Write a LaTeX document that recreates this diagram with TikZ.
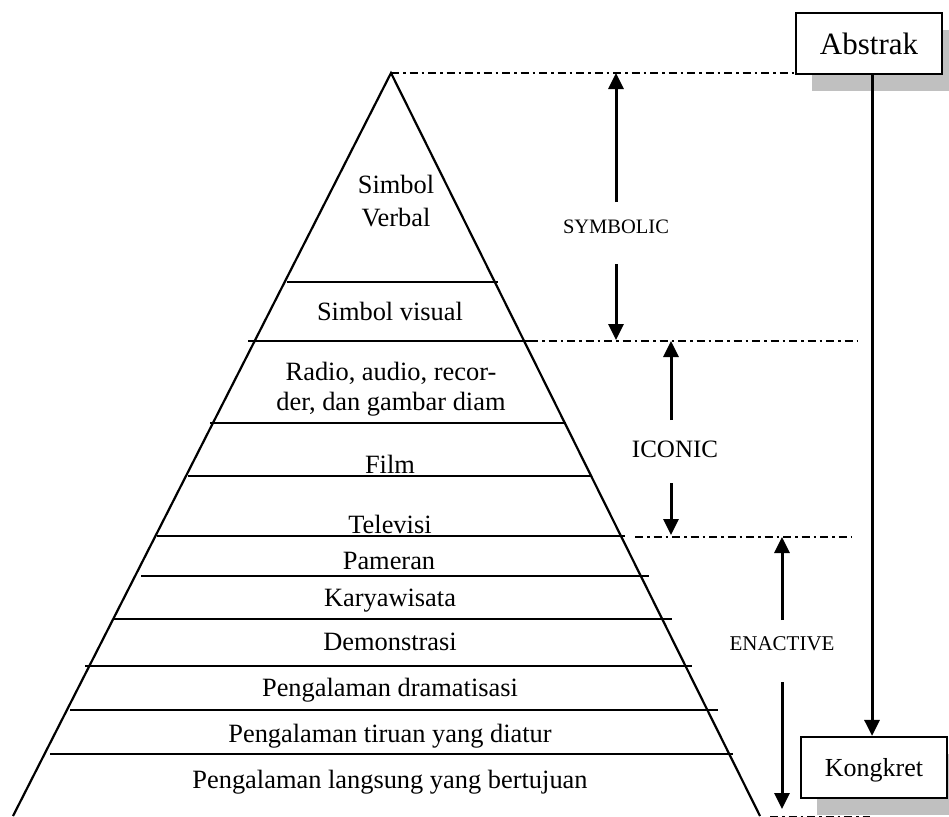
\documentclass[tikz,border=0pt]{standalone}
\usepackage{fontspec}
\setmainfont{Liberation Serif}
\usetikzlibrary{arrows.meta}
\definecolor{shadowgray}{RGB}{192,192,192}
\begin{document}
\begin{tikzpicture}[x=1pt,y=-1pt,
  edgeline/.style={line width=2.2pt},
  tier/.style={line width=2.2pt},
  dd/.style={line width=2.4pt, dash pattern=on 8pt off 4pt on 2.5pt off 4pt},
  arr/.style={line width=3pt, -{Triangle[length=16pt,width=15pt]}},
  lbl/.style={anchor=base, inner sep=0pt, font=\fontsize{26.4}{30}\selectfont},
  phase/.style={anchor=base, inner sep=0pt, font=\fontsize{20.5}{24}\selectfont},
  box/.style={draw, line width=2.2pt, fill=white, minimum width=146pt, minimum height=61pt, inner sep=0pt, text depth=0pt},
  shadowbox/.style={fill=shadowgray, draw=none, minimum width=146pt, minimum height=61pt, inner sep=0pt}
]
\path[use as bounding box, clip] (0,0) rectangle (949,816);
\fill[white] (0,0) rectangle (949,816);

% shadows and boxes
\node[shadowbox] (absS) at (885,60.5) {};
\node[shadowbox] (kongS) at (890,784.5) {};
\node[box, font=\fontsize{31}{36}\selectfont] (abs) at (869,43.5) {Abstrak};
\node[box, font=\fontsize{26}{30}\selectfont] (kong) at (874,767.5) {Kongkret};

% pyramid
\coordinate (apex) at (391,73);
\coordinate (bl) at (13,816);
\coordinate (br) at (760,816);
\draw[edgeline] (bl) -- (apex) -- (br);

% tier lines
\draw[tier] (287,282) -- (498,282);
\draw[tier] (248,341) -- (530,341);
\draw[tier] (210,423) -- (566,423);
\draw[tier] (188,476) -- (591,476);
\draw[tier] (157,536) -- (625,536);
\draw[tier] (141,576) -- (649,576);
\draw[tier] (114,619) -- (672,619);
\draw[tier] (85,666) -- (692,666);
\draw[tier] (70,710) -- (718,710);
\draw[tier] (50,754) -- (733,754);

% dash-dot level lines
\coordinate (d2a) at (530,341); \coordinate (d2b) at (857,341);
\coordinate (d3a) at (635,537); \coordinate (d3b) at (851,537);
\coordinate (d4a) at (770,817); \coordinate (d4b) at (870,817);
\draw[dd] (apex) -- (abs.west |- apex);
\draw[dd] (d2a) -- (d2b);
\draw[dd] (d3a) -- (d3b);
\draw[dd] (d4a) -- (d4b);

% tier labels
\node[lbl] (sv) at (396,193) {Simbol};
\node[lbl] (sv2) at (396,226) {Verbal};
\node[lbl] (svis) at (390,320) {Simbol visual};
\node[lbl] (radio) at (391,380) {Radio, audio, recor-};
\node[lbl] (radio2) at (391,410) {der, dan gambar diam};
\node[lbl] (film) at (390,473) {Film};
\node[lbl] (tv) at (390,533) {Televisi};
\node[lbl] (pam) at (389,569) {Pameran};
\node[lbl] (kary) at (390,606) {Karyawisata};
\node[lbl] (demo) at (390,650) {Demonstrasi};
\node[lbl] (drama) at (390,696) {Pengalaman dramatisasi};
\node[lbl] (tiruan) at (390,742) {Pengalaman tiruan yang diatur};
\node[lbl] (langsung) at (390,788) {Pengalaman langsung yang bertujuan};

% phase labels and arrows
\node[phase] (sym) at (616,233) {SYMBOLIC};
\node[lbl, font=\fontsize{25}{30}\selectfont] (ico) at (675,457) {ICONIC};
\node[phase, font=\fontsize{21}{24}\selectfont] (ena) at (782,650) {ENACTIVE};

\coordinate (s1) at (616,202); \coordinate (s1t) at (616,73);
\coordinate (s2) at (616,264); \coordinate (s2t) at (616,340);
\coordinate (i1) at (671,420); \coordinate (i1t) at (671,341);
\coordinate (i2) at (671,483); \coordinate (i2t) at (671,535);
\coordinate (e1) at (782,620); \coordinate (e1t) at (782,537);
\coordinate (e2) at (782,682); \coordinate (e2t) at (782,809);
\draw[arr] (s1) -- (s1t);
\draw[arr] (s2) -- (s2t);
\draw[arr] (i1) -- (i1t);
\draw[arr] (i2) -- (i2t);
\draw[arr] (e1) -- (e1t);
\draw[arr] (e2) -- (e2t);

\coordinate (ak) at (872,0);
\draw[arr] (abs.south -| ak) -- (kong.north -| ak);
\end{tikzpicture}
\end{document}
